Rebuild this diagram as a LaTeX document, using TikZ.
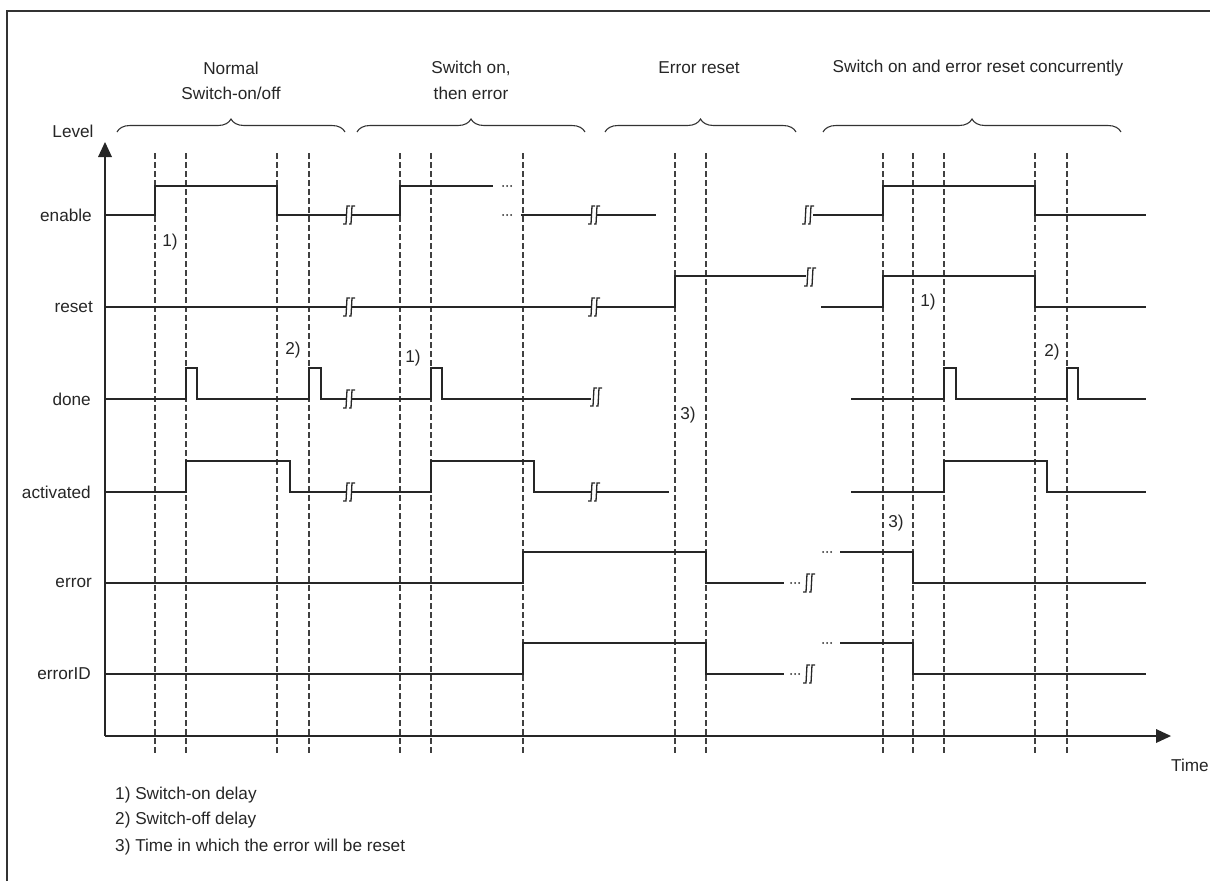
\documentclass[tikz,border=0pt]{standalone}
\usepackage{fontspec}
\setmainfont{Liberation Sans}
\usetikzlibrary{decorations.pathreplacing}
\newcommand\brkmark[2]{%
  \fill[white] (#1-3,#2+8) -- (#1+2,#2+8) -- (#1+3,#2-8) -- (#1-2,#2-8) -- cycle;
  \draw[brkline] (#1-6,#2+9) -- (#1-3,#2+9) -- (#1-2,#2-9) -- (#1+1,#2-9);
  \draw[brkline] (#1,#2+9) -- (#1+2,#2+9) -- (#1+3,#2-9) -- (#1+6,#2-9);}
\newcommand\dotsat[2]{\foreach \i in {0,1,2} \fill[sigcol] (#1+\i*4,#2) circle (1);}
\begin{document}
\begin{tikzpicture}[x=1pt,y=-1pt,
  every node/.style={font=\fontsize{17.2}{20}\selectfont, text=black!85, inner sep=0pt},
  sig/.style={draw=sigcol, line width=1.3pt, line join=miter},
  brkline/.style={draw=sigcol, line width=1.3pt},
  vdash/.style={draw=black!75, line width=1.1pt, dash pattern=on 6pt off 3pt},
  axis/.style={draw=black!85, line width=1.6pt},
  bracestyle/.style={draw=black!80, line width=1.1pt, decorate, decoration={brace, amplitude=13pt}},
  signame/.style={anchor=east},
  delaymark/.style={anchor=center}]
\colorlet{sigcol}{black!85}
\useasboundingbox (0,0) rectangle (1210,881);
% frame
\draw[line width=1.2pt, black!80] (7,881) -- (7,11) -- (1210,11);
% titles
\node (t1a) at (231,68) {Normal};
\node (t1b) at (231,93) {Switch-on/off};
\node (t2a) at (471,68) {Switch on,};
\node (t2b) at (471,93) {then error};
\node (t3) at (699,68) {Error reset};
\node (t4) at (978,68) {Switch on and error reset concurrently};
% braces
\draw[bracestyle] (117,132) -- (345,132);
\draw[bracestyle] (357,132) -- (585,132);
\draw[bracestyle] (605,132) -- (796,132);
\draw[bracestyle] (823,132) -- (1121,132);
% dashed verticals
\foreach \x in {155,186,277,309,400,431,523,675,706,883,913,944,1035,1067}
  \draw[vdash] (\x,153) -- (\x,754);
% axes
\draw[axis] (105,736) -- (105,155);
\fill[black!85] (105,142) -- (112,157) -- (98,157) -- cycle;
\draw[axis] (105,736) -- (1158,736);
\fill[black!85] (1171,736) -- (1156,729) -- (1156,743) -- cycle;
\node (level) at (73,131) {Level};
\node[anchor=west] (time) at (1171,765) {Time};
% signal names
\node[signame] (nen) at (92,215) {enable};
\node[signame] (nre) at (93,307) {reset};
\node[signame] (ndo) at (91,399) {done};
\node[signame] (nac) at (91,492) {activated};
\node[signame] (ner) at (92,583) {error};
\node[signame] (nid) at (91,674) {errorID};
% enable
\draw[sig] (105,215) -- (155,215) -- (155,186) -- (277,186) -- (277,215) -- (400,215) -- (400,186) -- (493,186);
\draw[sig] (521,215) -- (656,215);
\draw[sig] (813,215) -- (883,215) -- (883,186) -- (1035,186) -- (1035,215) -- (1146,215);
\dotsat{503}{186}
\dotsat{503}{215}
% reset
\draw[sig] (105,307) -- (675,307) -- (675,276) -- (806,276);
\draw[sig] (821,307) -- (883,307) -- (883,276) -- (1035,276) -- (1035,307) -- (1146,307);
% done
\draw[sig] (105,399) -- (186,399) -- (186,368) -- (197,368) -- (197,399) -- (309,399) -- (309,368) -- (321,368) -- (321,399) -- (431,399) -- (431,368) -- (442,368) -- (442,399) -- (591,399);
\draw[sig] (851,399) -- (944,399) -- (944,368) -- (956,368) -- (956,399) -- (1067,399) -- (1067,368) -- (1078,368) -- (1078,399) -- (1146,399);
% activated
\draw[sig] (105,492) -- (186,492) -- (186,461) -- (290,461) -- (290,492) -- (431,492) -- (431,461) -- (534,461) -- (534,492) -- (669,492);
\draw[sig] (851,492) -- (944,492) -- (944,461) -- (1047,461) -- (1047,492) -- (1146,492);
% error
\draw[sig] (105,583) -- (523,583) -- (523,552) -- (706,552) -- (706,583) -- (784,583);
\draw[sig] (840,552) -- (913,552) -- (913,583) -- (1146,583);
\dotsat{791}{583}
\dotsat{823}{552}
% errorID
\draw[sig] (105,674) -- (523,674) -- (523,643) -- (706,643) -- (706,674) -- (784,674);
\draw[sig] (840,643) -- (913,643) -- (913,674) -- (1146,674);
\dotsat{791}{674}
\dotsat{823}{643}
% break marks
\brkmark{349}{215}
\brkmark{349}{307}
\brkmark{349}{399}
\brkmark{349}{492}
\brkmark{594}{215}
\brkmark{594}{307}
\brkmark{596}{397}
\brkmark{594}{492}
\brkmark{808}{215}
\brkmark{810}{277}
\brkmark{809}{583}
\brkmark{809}{674}
% delay marks
\node[delaymark] (m1) at (170,242) {1)};
\node[delaymark] (m2) at (293,350) {2)};
\node[delaymark] (m3) at (413,358) {1)};
\node[delaymark] (m4) at (688,415) {3)};
\node[delaymark] (m5) at (928,302) {1)};
\node[delaymark] (m6) at (1052,352) {2)};
\node[delaymark] (m7) at (896,523) {3)};
% footnotes
\node[anchor=west] (f1) at (115,795) {1) Switch-on delay};
\node[anchor=west] (f2) at (115,820) {2) Switch-off delay};
\node[anchor=west] (f3) at (115,847) {3) Time in which the error will be reset};
\end{tikzpicture}
\end{document}
